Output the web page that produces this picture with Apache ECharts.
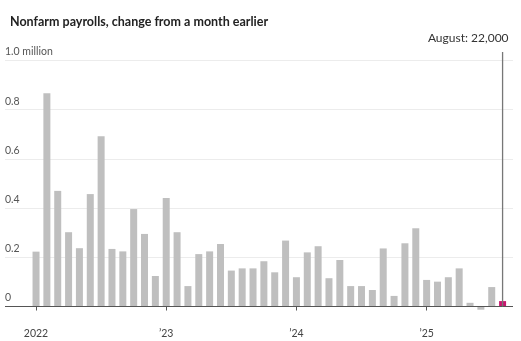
<!DOCTYPE html>
<html><head><meta charset="utf-8">
<script src="https://cdn.jsdelivr.net/npm/echarts@6/dist/echarts.min.js"></script>
<style>html,body{margin:0;padding:0;background:#fff}#c{width:521px;height:341px}</style>
</head><body><div id="c"></div>
<script>
const title = "Nonfarm payrolls, change from a month earlier";
const categories = [
 "Jan 2022","Feb 2022","Mar 2022","Apr 2022","May 2022","Jun 2022","Jul 2022","Aug 2022","Sep 2022","Oct 2022","Nov 2022","Dec 2022",
 "Jan 2023","Feb 2023","Mar 2023","Apr 2023","May 2023","Jun 2023","Jul 2023","Aug 2023","Sep 2023","Oct 2023","Nov 2023","Dec 2023",
 "Jan 2024","Feb 2024","Mar 2024","Apr 2024","May 2024","Jun 2024","Jul 2024","Aug 2024","Sep 2024","Oct 2024","Nov 2024","Dec 2024",
 "Jan 2025","Feb 2025","Mar 2025","Apr 2025","May 2025","Jun 2025","Jul 2025","Aug 2025"
];
// change in payrolls, millions
const values = [
 0.223,0.867,0.470,0.302,0.237,0.457,0.692,0.234,0.224,0.396,0.295,0.124,
 0.441,0.302,0.083,0.213,0.224,0.254,0.146,0.155,0.155,0.184,0.139,0.268,
 0.119,0.220,0.245,0.115,0.189,0.083,0.083,0.067,0.236,0.043,0.257,0.318,
 0.108,0.101,0.119,0.155,0.015,-0.013,0.079,0.022
];
const tickLabels = ["2022","\u201923","\u201924","\u201925"];
const yTicks = [0, 0.2, 0.4, 0.6, 0.8, 1.0];
const annotationText = "August: 22,000";
const highlightIndex = values.length - 1;

const FONT = "Lato";
const chart = echarts.init(document.getElementById('c'), null, {renderer:'canvas'});
chart.setOption({
  animation:false,
  backgroundColor:'#fff',
  title:{text:title,left:5,top:10,textStyle:{fontFamily:FONT,fontSize:12.5,fontWeight:'bold',color:'#222'}},
  grid:[
    {left:30.6,right:13,top:60.5,bottom:22.2},
    {left:5,right:8,top:60.5,bottom:34.5}
  ],
  xAxis:[
    {type:'category',gridIndex:0,data:categories,
     axisLine:{show:false},
     axisTick:{show:true,alignWithLabel:true,length:4,interval:(i)=>i%12===0,lineStyle:{color:'#555',width:1}},
     axisLabel:{interval:(i)=>i%12===0,margin:9,fontFamily:FONT,fontSize:10.5,color:'#444',
       formatter:(v,i)=>tickLabels[Math.floor(i/12)]}},
    {type:'value',gridIndex:1,min:0,max:1,show:true,
     axisLine:{show:false},axisTick:{show:false},axisLabel:{show:false},splitLine:{show:false}}
  ],
  yAxis:[
    {type:'value',gridIndex:0,min:-0.05,max:1.0,show:false},
    {type:'value',gridIndex:1,min:yTicks[0],max:yTicks[yTicks.length-1],interval:0.2,
     axisLine:{show:false},axisTick:{show:false},
     splitLine:{show:true,lineStyle:{color:'#ececec',width:1}},
     axisLabel:{inside:true,margin:0,verticalAlign:'bottom',padding:[0,0,3,0],
       fontFamily:FONT,fontSize:10.5,color:'#555',
       formatter:(v)=> v===0?'0':(Math.abs(v-1)<1e-9?'1.0 million':v.toFixed(1))}}
  ],
  series:[
    {type:'bar',xAxisIndex:0,yAxisIndex:0,barWidth:7,z:3,
     data:values.map((v,i)=>({value:v,itemStyle:{color:i===highlightIndex?'#c8186f':'#bfbfbf'}}))},
    {type:'line',xAxisIndex:1,yAxisIndex:1,data:[],silent:true,
     markLine:{silent:true,symbol:'none',label:{show:false},
       lineStyle:{color:'#555',width:1.2,type:'solid'},data:[{yAxis:0}]}}
  ]
});
// annotation line and label tied to the highlighted bar
const pTop = chart.convertToPixel({gridIndex:0},[highlightIndex,1.0]);
const pZero = chart.convertToPixel({gridIndex:0},[highlightIndex,0]);
chart.setOption({graphic:[
  {type:'line',z:10,shape:{x1:pTop[0],y1:pTop[1]-8.5,x2:pZero[0],y2:pZero[1]},style:{stroke:'#777',lineWidth:1.3}},
  {type:'text',z:10,x:pTop[0]+6,y:pTop[1]-22,style:{text:annotationText,align:'right',verticalAlign:'middle',
    font:'12px '+FONT,fill:'#333'}}
]});
</script></body></html>
